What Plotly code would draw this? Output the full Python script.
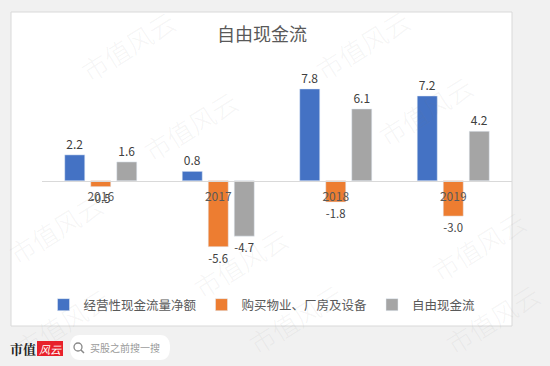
import plotly.graph_objects as go

categories = ["2016", "2017", "2018", "2019"]
op_cf = [2.2, 0.8, 7.8, 7.2]
capex = [-0.5, -5.6, -1.8, -3.0]
fcf = [1.6, -4.7, 6.1, 4.2]
series_names = ["经营性现金流量净额", "购买物业、厂房及设备", "自由现金流"]
colors = ["#4472C4", "#ED7D31", "#A5A5A5"]
title_text = "自由现金流"

W, H = 550, 366
L, R, T, B = 42, 512, 63, 275
YMIN, YMAX = -8, 10


def px(x):
    return (x - L) / (R - L)


def py(y):
    return (B - y) / (B - T)


FONT = "Noto Sans CJK SC"

fig = go.Figure()
for name, vals, c in zip(series_names, [op_cf, capex, fcf], colors):
    fig.add_trace(go.Bar(
        x=categories, y=vals, name=name, marker_color=c,
        text=[f"{v:.1f}" for v in vals], textposition="outside",
        textfont=dict(size=12, color="#404040", family=FONT),
        cliponaxis=False,
    ))

shapes = [
    # outer gray card
    dict(type="rect", xref="paper", yref="paper", x0=px(0), x1=px(550), y0=py(0), y1=py(366),
         fillcolor="#f1f1f1", line=dict(width=0), layer="below"),
    # white chart area
    dict(type="rect", xref="paper", yref="paper", x0=px(11), x1=px(512), y0=py(12), y1=py(326),
         fillcolor="#ffffff", line=dict(color="#d9d9d9", width=1), layer="below"),
    # logo red box
    dict(type="rect", xref="paper", yref="paper", x0=px(37), x1=px(63), y0=py(341), y1=py(356),
         fillcolor="#e8202a", line=dict(width=0), layer="below"),
    # search pill
    dict(type="path", xref="paper", yref="paper",
         path=(f"M {px(80)},{py(335)} L {px(160)},{py(335)} "
               f"Q {px(170)},{py(335)} {px(170)},{py(347.5)} Q {px(170)},{py(360)} {px(160)},{py(360)} "
               f"L {px(80)},{py(360)} Q {px(70)},{py(360)} {px(70)},{py(347.5)} "
               f"Q {px(70)},{py(335)} {px(80)},{py(335)} Z"),
         fillcolor="#ffffff", line=dict(width=0), layer="below"),
    # magnifier
    dict(type="circle", xref="paper", yref="paper", x0=px(74), x1=px(82), y0=py(343), y1=py(351),
         line=dict(color="#888888", width=1.3), layer="above"),
    dict(type="line", xref="paper", yref="paper", x0=px(81), x1=px(84), y0=py(350), y1=py(353),
         line=dict(color="#888888", width=1.5), layer="above"),
]

annotations = [
    dict(text="<b>市值</b>", x=px(23), y=py(348.5), xref="paper", yref="paper", showarrow=False,
         font=dict(size=13, color="#222222", family="Noto Serif CJK SC, Noto Sans CJK SC"),
         xanchor="center", yanchor="middle"),
    dict(text="<i>风云</i>", x=px(50), y=py(348.5), xref="paper", yref="paper", showarrow=False,
         font=dict(size=11, color="#ffffff", family=FONT), xanchor="center", yanchor="middle"),
    dict(text="买股之前搜一搜", x=px(88), y=py(347.5), xref="paper", yref="paper", showarrow=False,
         font=dict(size=10, color="#9a9a9a", family=FONT), xanchor="left", yanchor="middle"),
]

wm_centers = [(128, 46), (362, 44), (190, 125), (425, 110), (55, 228), (240, 262),
              (478, 245), (62, 322), (295, 318), (492, 318)]
for cx, cy in wm_centers:
    annotations.append(dict(text="市值风云", x=px(cx), y=py(cy), xref="paper", yref="paper",
                            showarrow=False, textangle=-32,
                            font=dict(size=26, color="rgba(120,120,120,0.08)", family=FONT, weight=300),
                            xanchor="center", yanchor="middle"))

fig.update_layout(
    width=W, height=H,
    margin=dict(l=L, r=W - R, t=T, b=H - B),
    paper_bgcolor="#ffffff", plot_bgcolor="rgba(0,0,0,0)",
    font=dict(family=FONT, color="#595959"),
    title=dict(text=title_text, x=px(262), xref="paper", xanchor="center",
               y=1 - 35 / H, yanchor="middle", font=dict(size=18, color="#595959", family=FONT)),
    barmode="group", bargap=0.336, bargroupgap=0.23,
    showlegend=True,
    legend=dict(orientation="h", x=px(262), xanchor="center", y=py(305), yanchor="middle",
                font=dict(size=12.5, color="#595959", family=FONT), bgcolor="rgba(0,0,0,0)",
                itemwidth=30, traceorder="normal"),
    xaxis=dict(anchor="free", position=(0 - YMIN) / (YMAX - YMIN), showline=True,
               linecolor="#d9d9d9", linewidth=1, ticks="outside", ticklen=5,
               tickcolor="rgba(0,0,0,0)", tickfont=dict(size=12, color="#595959", family=FONT),
               showgrid=False, zeroline=False, fixedrange=True),
    yaxis=dict(range=[YMIN, YMAX], visible=False, showgrid=False, zeroline=False, fixedrange=True),
    shapes=shapes, annotations=annotations,
)

fig.write_html("out.html", config={"displayModeBar": False},
               post_script="document.body.style.margin='0';document.body.style.overflow='hidden';")
